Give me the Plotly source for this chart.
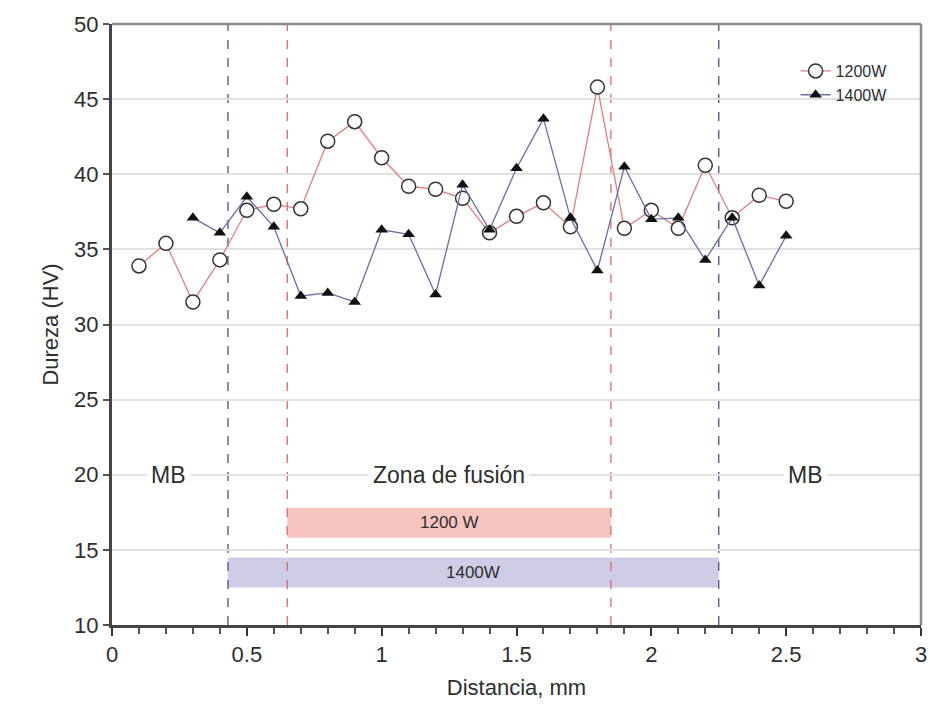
import plotly.graph_objects as go

# Microhardness profile across the weld
distancia = [0.1, 0.2, 0.3, 0.4, 0.5, 0.6, 0.7, 0.8, 0.9, 1.0, 1.1, 1.2, 1.3,
             1.4, 1.5, 1.6, 1.7, 1.8, 1.9, 2.0, 2.1, 2.2, 2.3, 2.4, 2.5]
dureza_1200 = [33.9, 35.4, 31.5, 34.3, 37.6, 38.0, 37.7, 42.2, 43.5, 41.1, 39.2,
               39.0, 38.4, 36.1, 37.2, 38.1, 36.5, 45.8, 36.4, 37.6, 36.4, 40.6,
               37.1, 38.6, 38.2]

distancia_1400 = [0.3, 0.4, 0.5, 0.6, 0.7, 0.8, 0.9, 1.0, 1.1, 1.2, 1.3, 1.4,
                  1.5, 1.6, 1.7, 1.8, 1.9, 2.0, 2.1, 2.2, 2.3, 2.4, 2.5]
dureza_1400 = [37.1, 36.1, 38.5, 36.5, 31.9, 32.1, 31.5, 36.3, 36.0, 32.0, 39.3,
               36.3, 40.4, 43.7, 37.1, 33.6, 40.5, 37.0, 37.1, 34.3, 37.1, 32.6,
               35.9]

# Zone limits (mm) and band extents (HV)
limites_1400 = [0.43, 2.25]
limites_1200 = [0.65, 1.85]
banda_1200 = [15.8, 17.8]
banda_1400 = [12.5, 14.5]

y_ticks = [10, 15, 20, 25, 30, 35, 40, 45, 50]

FONT = "Liberation Sans Narrow, Liberation Sans, Arial, sans-serif"
TXT = "#2e2e2e"

fig = go.Figure()

fig.add_trace(go.Scatter(
    x=distancia, y=dureza_1200, name="1200W", mode="lines+markers",
    line=dict(color="#e07f80", width=1.3),
    marker=dict(symbol="circle", size=14, color="white",
                line=dict(color="#333333", width=1.5)),
))
fig.add_trace(go.Scatter(
    x=distancia_1400, y=dureza_1400, name="1400W", mode="lines+markers",
    line=dict(color="#6b6ea3", width=1.3),
    marker=dict(symbol="triangle-up", size=11, color="#111111"),
))

# Coloured bands marking each fusion zone
fig.add_shape(type="rect", x0=limites_1200[0], x1=limites_1200[1],
              y0=banda_1200[0], y1=banda_1200[1], xref="x", yref="y",
              fillcolor="#f7c4c0", line=dict(width=0), layer="below")
fig.add_shape(type="rect", x0=limites_1400[0], x1=limites_1400[1],
              y0=banda_1400[0], y1=banda_1400[1], xref="x", yref="y",
              fillcolor="#cfcde6", line=dict(width=0), layer="below")

# Dashed zone boundaries
for xv in limites_1400:
    fig.add_shape(type="line", x0=xv, x1=xv, y0=10, y1=50, xref="x", yref="y",
                  line=dict(color="#50507e", width=1.3, dash="dash"), layer="below")
for xv in limites_1200:
    fig.add_shape(type="line", x0=xv, x1=xv, y0=10, y1=50, xref="x", yref="y",
                  line=dict(color="#e06a6a", width=1.3, dash="dash"), layer="below")

# Top and right frame
fig.add_shape(type="line", x0=0, x1=1, y0=1, y1=1, xref="paper", yref="paper",
              line=dict(color="#8a8a8a", width=2.5))
fig.add_shape(type="line", x0=1, x1=1, y0=0, y1=1, xref="paper", yref="paper",
              line=dict(color="#8a8a8a", width=2.5))

# Zone labels
for xv, txt in [(0.21, "MB"), (1.25, "Zona de fusión"), (2.57, "MB")]:
    fig.add_annotation(x=xv, y=20, text=txt, showarrow=False, xref="x", yref="y",
                       bgcolor="white", borderpad=4,
                       font=dict(family=FONT, size=23, color=TXT))

fig.add_annotation(x=sum(limites_1200) / 2, y=sum(banda_1200) / 2, text="1200 W",
                   showarrow=False, xref="x", yref="y",
                   font=dict(family=FONT, size=17, color=TXT))
fig.add_annotation(x=sum(limites_1400) / 2, y=sum(banda_1400) / 2, text="1400W",
                   showarrow=False, xref="x", yref="y",
                   font=dict(family=FONT, size=17, color=TXT))

fig.update_layout(
    width=939, height=717,
    margin=dict(l=112, r=15, t=22, b=92),
    paper_bgcolor="white", plot_bgcolor="white",
    font=dict(family=FONT, color=TXT),
    legend=dict(x=0.845, y=0.95, xanchor="left", yanchor="top",
                bgcolor="rgba(0,0,0,0)", font=dict(family=FONT, size=16, color=TXT),
                itemwidth=30, tracegroupgap=2),
)

fig.update_xaxes(
    range=[0, 3], tickmode="linear", tick0=0, dtick=0.5,
    showgrid=False, zeroline=False,
    showline=True, linecolor="#444444", linewidth=3,
    ticks="outside", ticklen=8, tickcolor="#333333", tickwidth=2,
    minor=dict(dtick=0.1, ticks="outside", ticklen=6,
               tickcolor="#555555", tickwidth=1.5, showgrid=False),
    tickfont=dict(family=FONT, size=22, color=TXT),
    title=dict(text="Distancia, mm", font=dict(family=FONT, size=22, color=TXT), standoff=14),
)
fig.update_yaxes(
    range=[10, 50], tickvals=y_ticks,
    showgrid=True, gridcolor="#dfe3df", gridwidth=1.5, zeroline=False,
    showline=True, linecolor="#444444", linewidth=3,
    ticks="outside", ticklen=6, tickcolor="#555555", tickwidth=1.5,
    tickfont=dict(family=FONT, size=22, color=TXT),
    title=dict(text="Dureza (HV)", font=dict(family=FONT, size=22, color=TXT), standoff=10),
)

fig.write_html("out.html")
